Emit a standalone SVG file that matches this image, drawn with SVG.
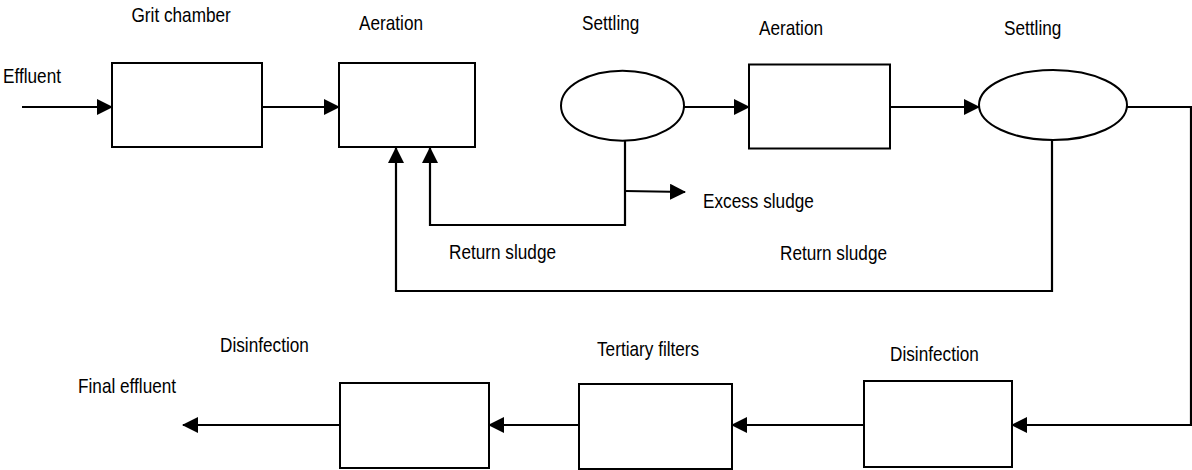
<svg xmlns="http://www.w3.org/2000/svg" width="1192" height="470" viewBox="0 0 1192 470">
<style>
.box{fill:#fff;stroke:#000;stroke-width:2}
.ln{fill:none;stroke:#000;stroke-width:2.2}
.lbl{font-family:"Liberation Sans",Arial,sans-serif;font-size:20px;fill:#000}
</style>
<defs>
<marker id="ah" markerUnits="userSpaceOnUse" markerWidth="16" markerHeight="16" viewBox="0 0 16 16" refX="15" refY="8" orient="auto">
<path d="M0,0 L16,8 L0,16 Z" fill="#000"/>
</marker>
</defs>
<rect width="1192" height="470" fill="#fff"/>
<g id="connectors">
<path class="ln" d="M22,107 H112" marker-end="url(#ah)"/>
<path class="ln" d="M262,107 H339" marker-end="url(#ah)"/>
<path class="ln" d="M684,107 H749" marker-end="url(#ah)"/>
<path class="ln" d="M890,107 H979" marker-end="url(#ah)"/>
<path class="ln" d="M1127,107 H1191 V425 H1012" marker-end="url(#ah)"/>
<path class="ln" d="M864,425 H732" marker-end="url(#ah)"/>
<path class="ln" d="M579,425 H489" marker-end="url(#ah)"/>
<path class="ln" d="M340,425 H183" marker-end="url(#ah)"/>
<path class="ln" d="M625,141 V225 H430 V148" marker-end="url(#ah)"/>
<path class="ln" d="M625,191 L685,192" marker-end="url(#ah)"/>
<path class="ln" d="M1052,140 V291 H396 V148" marker-end="url(#ah)"/>
</g>
<g id="effluent-in"><text class="lbl" transform="matrix(0.86 0 0 1 3 83)">Effluent</text></g>
<g id="grit-chamber">
<rect class="box" x="112" y="63" width="150" height="84"/>
<text class="lbl" transform="matrix(0.86 0 0 1 131.5 21.5)">Grit chamber</text>
</g>
<g id="aeration-1">
<rect class="box" x="339" y="63" width="136" height="84"/>
<text class="lbl" transform="matrix(0.86 0 0 1 359 29.5)">Aeration</text>
</g>
<g id="settling-1">
<ellipse class="box" cx="622.5" cy="105.7" rx="61.5" ry="35"/>
<text class="lbl" transform="matrix(0.86 0 0 1 582 29.5)">Settling</text>
</g>
<g id="aeration-2">
<rect class="box" x="749" y="64.5" width="141" height="84"/>
<text class="lbl" transform="matrix(0.86 0 0 1 759 35)">Aeration</text>
</g>
<g id="settling-2">
<ellipse class="box" cx="1053" cy="105" rx="74" ry="35"/>
<text class="lbl" transform="matrix(0.86 0 0 1 1004 35)">Settling</text>
</g>
<g id="excess-sludge"><text class="lbl" transform="matrix(0.86 0 0 1 703 208)">Excess sludge</text></g>
<g id="return-sludge-1"><text class="lbl" transform="matrix(0.86 0 0 1 449 259)">Return sludge</text></g>
<g id="return-sludge-2"><text class="lbl" transform="matrix(0.86 0 0 1 780 260)">Return sludge</text></g>
<g id="disinfection-2">
<rect class="box" x="864" y="381" width="148" height="86"/>
<text class="lbl" transform="matrix(0.86 0 0 1 890 361)">Disinfection</text>
</g>
<g id="tertiary-filters">
<rect class="box" x="579" y="384" width="153" height="85"/>
<text class="lbl" transform="matrix(0.86 0 0 1 597 356)">Tertiary filters</text>
</g>
<g id="disinfection-1">
<rect class="box" x="340" y="383" width="149" height="85"/>
<text class="lbl" transform="matrix(0.86 0 0 1 220 352)">Disinfection</text>
</g>
<g id="final-effluent"><text class="lbl" transform="matrix(0.86 0 0 1 78 393)">Final effluent</text></g>
</svg>
